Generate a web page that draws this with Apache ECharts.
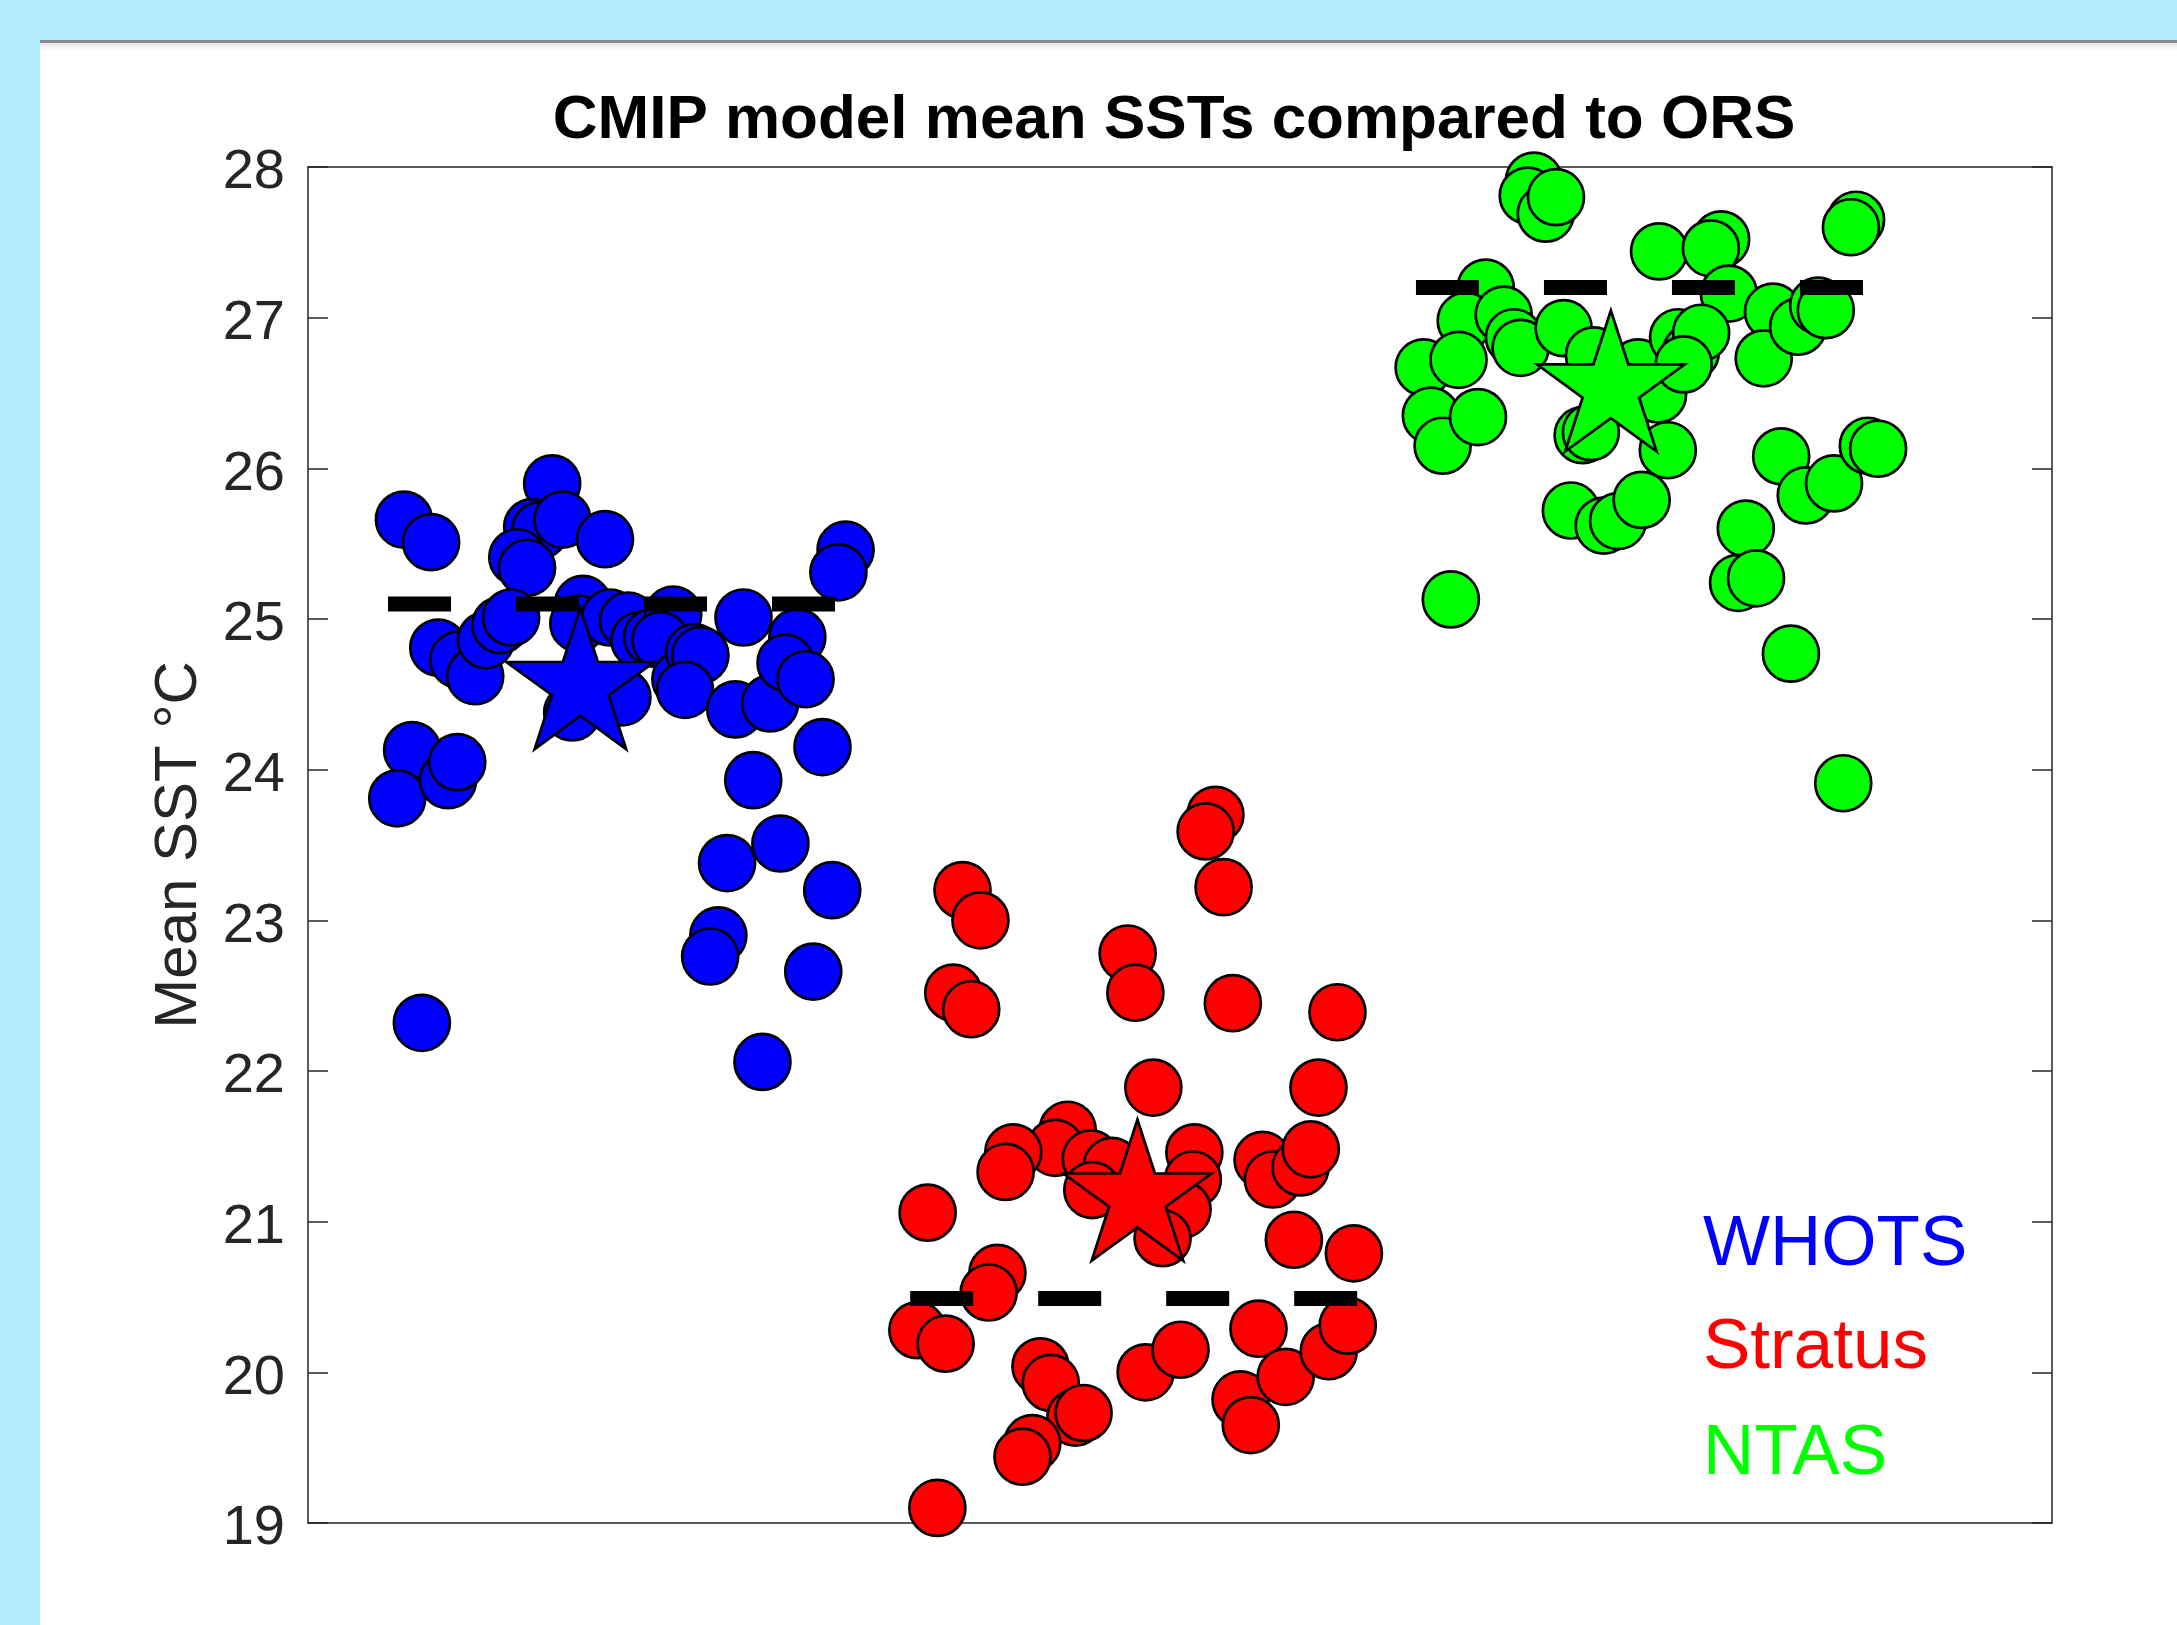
<!DOCTYPE html>
<html>
<head>
<meta charset="utf-8">
<script src="https://cdn.jsdelivr.net/npm/echarts@6/dist/echarts.min.js"></script>
<style>
html,body{margin:0;padding:0;background:#b3ebfe;}
#chart{width:2177px;height:1625px;}
</style>
</head>
<body>
<div id="chart"></div>
<script>
// ---- Data ----
const siteNames = ['WHOTS', 'Stratus', 'NTAS'];
const siteColors = ['#0000ff', '#ff0000', '#00ff00'];

// CMIP model mean SSTs (x = jittered horizontal position, y = SST in °C)
const whotsX = [0.587,0.640,0.876,0.837,0.853,0.896,0.979,0.808,0.827,0.654,0.693,0.726,0.747,0.775,0.796,0.936,0.927,0.989,1.024,1.046,1.071,1.112,1.087,1.013,0.915,1.126,1.153,1.165,1.135,1.233,1.301,1.249,1.354,1.331,1.370,1.403,1.268,1.448,1.434,0.603,0.574,0.673,0.691,1.217,1.321,1.422,1.200,1.184,1.385,0.622,1.286];
const whotsY = [25.66,25.51,25.90,25.61,25.59,25.66,25.53,25.41,25.34,24.81,24.73,24.62,24.86,24.96,25.01,25.10,24.97,25.01,24.99,24.86,24.88,25.03,24.86,24.48,24.38,24.60,24.78,24.76,24.53,24.40,24.44,25.01,24.88,24.71,24.60,24.15,23.93,25.46,25.31,24.13,23.81,23.93,24.05,23.38,23.51,23.20,22.90,22.76,22.66,22.32,22.06];

const stratusX = [2.169,2.150,2.185,1.676,1.711,1.998,2.013,1.658,1.693,2.203,2.407,2.048,2.370,1.881,1.857,1.775,1.760,1.926,1.967,1.929,2.128,2.125,2.105,2.066,2.261,2.281,2.335,2.355,1.608,2.322,2.439,1.744,1.727,1.588,1.643,1.828,1.848,1.896,1.912,1.812,1.793,2.033,2.101,2.253,2.218,2.238,2.306,2.390,2.427,1.627];
const stratusY = [23.70,23.59,23.22,23.20,23.00,22.78,22.52,22.52,22.41,22.45,22.39,21.89,21.89,21.61,21.49,21.46,21.33,21.42,21.37,21.21,21.46,21.28,21.08,20.89,21.41,21.28,21.36,21.48,21.06,20.88,20.79,20.66,20.53,20.28,20.19,20.04,19.93,19.70,19.73,19.53,19.44,20.00,20.15,20.29,19.82,19.65,19.97,20.14,20.31,19.10];

const ntasX = [2.790,2.778,2.813,2.833,3.418,3.408,3.034,3.155,3.135,2.696,3.170,2.657,2.731,2.751,2.764,2.848,2.575,2.643,2.589,2.612,2.681,2.907,2.993,2.885,2.901,3.032,3.051,3.071,3.096,3.116,3.082,3.256,3.238,3.305,3.344,3.359,3.272,3.320,3.375,3.441,3.461,2.862,2.926,2.954,3.000,3.203,3.188,3.223,2.628,3.291,3.393];
const ntasY = [27.91,27.81,27.69,27.80,27.65,27.60,27.44,27.52,27.46,27.20,27.16,26.98,27.02,26.87,26.80,26.93,26.67,26.72,26.35,26.15,26.34,26.75,26.67,26.22,26.24,26.49,26.12,26.87,26.77,26.90,26.69,27.04,26.73,26.94,27.08,27.05,26.08,25.82,25.90,26.15,26.13,25.72,25.62,25.65,25.79,25.60,25.24,25.27,25.13,24.77,23.91];

// Multi-model mean (star)
const meanX = [0.931, 2.017, 2.940];
const meanY = [24.555, 21.16, 26.53];

// ORS observed mean (dashed line) and its horizontal extent
const orsY = [25.10, 20.49, 27.20];
const orsXStart = [0.556, 1.574, 2.560];
const orsXEnd = [1.432, 2.450, 3.435];

// Axis
const yMin = 19, yMax = 28, yStep = 1;
const xMin = 0.4, xMax = 3.8;

// ---- Build chart ----
const modelX = [whotsX, stratusX, ntasX];
const modelY = [whotsY, stratusY, ntasY];

const starPath = 'path://M95.1,0L117.55,69.1L190.2,69.1L131.43,111.8L153.88,180.9L95.1,138.2L36.32,180.9L58.77,111.8L0,69.1L72.65,69.1Z';

const series = [];
siteNames.forEach((name, i) => {
  series.push({
    name: name,
    type: 'scatter',
    data: modelX[i].map((x, k) => [x, modelY[i][k]]),
    symbol: 'circle',
    symbolSize: 56,
    clip: false,
    itemStyle: { color: siteColors[i], borderColor: '#000', borderWidth: 2.7, opacity: 1 },
    emphasis: { disabled: true }
  });
  series.push({
    name: name + ' ORS',
    type: 'line',
    data: [[orsXStart[i], orsY[i]], [orsXEnd[i], orsY[i]]],
    symbol: 'none',
    clip: false,
    lineStyle: { color: '#000', width: 15, type: [63, 65], cap: 'butt' },
    emphasis: { disabled: true }
  });
  series.push({
    name: name + ' mean',
    type: 'scatter',
    data: [[meanX[i], meanY[i]]],
    symbol: starPath,
    symbolSize: [148, 141],
    symbolOffset: [0, '-5.28%'],
    clip: false,
    itemStyle: { color: siteColors[i], borderColor: '#000', borderWidth: 2.7, opacity: 1 },
    emphasis: { disabled: true }
  });
});

const axisColor = '#262626';
const fontFam = '"Liberation Sans", Arial, Helvetica, sans-serif';

const chart = echarts.init(document.getElementById('chart'), null, { renderer: 'canvas' });
chart.setOption({
  animation: false,
  backgroundColor: '#b3ebfe',
  graphic: [
    { type: 'rect', z: -100, silent: true, shape: { x: 40, y: 40, width: 2137, height: 1585 }, style: { fill: '#ffffff' } },
    { type: 'rect', z: -99, silent: true, shape: { x: 40, y: 40, width: 2137, height: 3 }, style: { fill: '#8a8a8a' } },
    { type: 'rect', z: -99, silent: true, shape: { x: 40, y: 43, width: 2137, height: 8 },
      style: { fill: new echarts.graphic.LinearGradient(0, 0, 0, 1, [{ offset: 0, color: '#e6e6e6' }, { offset: 1, color: '#ffffff' }]) } },
    { type: 'text', z: 10, x: 1174, y: 121, silent: true,
      style: { text: 'CMIP model mean SSTs compared to ORS', fill: '#000', font: 'bold 62px ' + fontFam, align: 'center', verticalAlign: 'middle' } },
    { type: 'text', z: 10, x: 1703, y: 1245, silent: true,
      style: { text: siteNames[0], fill: siteColors[0], font: '71px ' + fontFam, align: 'left', verticalAlign: 'middle' } },
    { type: 'text', z: 10, x: 1703, y: 1348, silent: true,
      style: { text: siteNames[1], fill: siteColors[1], font: '71px ' + fontFam, align: 'left', verticalAlign: 'middle' } },
    { type: 'text', z: 10, x: 1703, y: 1454, silent: true,
      style: { text: siteNames[2], fill: siteColors[2], font: '71px ' + fontFam, align: 'left', verticalAlign: 'middle' } }
  ],
  grid: { left: 308, right: 125, top: 167, bottom: 102, containLabel: false },
  xAxis: [
    { type: 'value', min: xMin, max: xMax, position: 'bottom',
      axisLine: { show: true, onZero: false, lineStyle: { color: axisColor, width: 1.5 } },
      axisTick: { show: false }, axisLabel: { show: false }, splitLine: { show: false } },
    { type: 'value', min: xMin, max: xMax, position: 'top',
      axisLine: { show: true, onZero: false, lineStyle: { color: axisColor, width: 1.5 } },
      axisTick: { show: false }, axisLabel: { show: false }, splitLine: { show: false } }
  ],
  yAxis: [
    { type: 'value', min: yMin, max: yMax, interval: yStep, position: 'left',
      name: 'Mean SST °C', nameLocation: 'middle', nameGap: 99,
      nameTextStyle: { color: axisColor, fontSize: 60, fontFamily: fontFam },
      axisLine: { show: true, onZero: false, lineStyle: { color: axisColor, width: 1.5 } },
      axisTick: { show: true, inside: true, length: 20, lineStyle: { color: axisColor, width: 1.5 } },
      axisLabel: { show: true, margin: 23, color: axisColor, fontSize: 56, fontFamily: fontFam,
        verticalAlign: 'top', lineHeight: 12 },
      splitLine: { show: false } },
    { type: 'value', min: yMin, max: yMax, interval: yStep, position: 'right',
      axisLine: { show: true, onZero: false, lineStyle: { color: axisColor, width: 1.5 } },
      axisTick: { show: true, inside: true, length: 20, lineStyle: { color: axisColor, width: 1.5 } },
      axisLabel: { show: false }, splitLine: { show: false } }
  ],
  series: series
});
</script>
</body>
</html>
